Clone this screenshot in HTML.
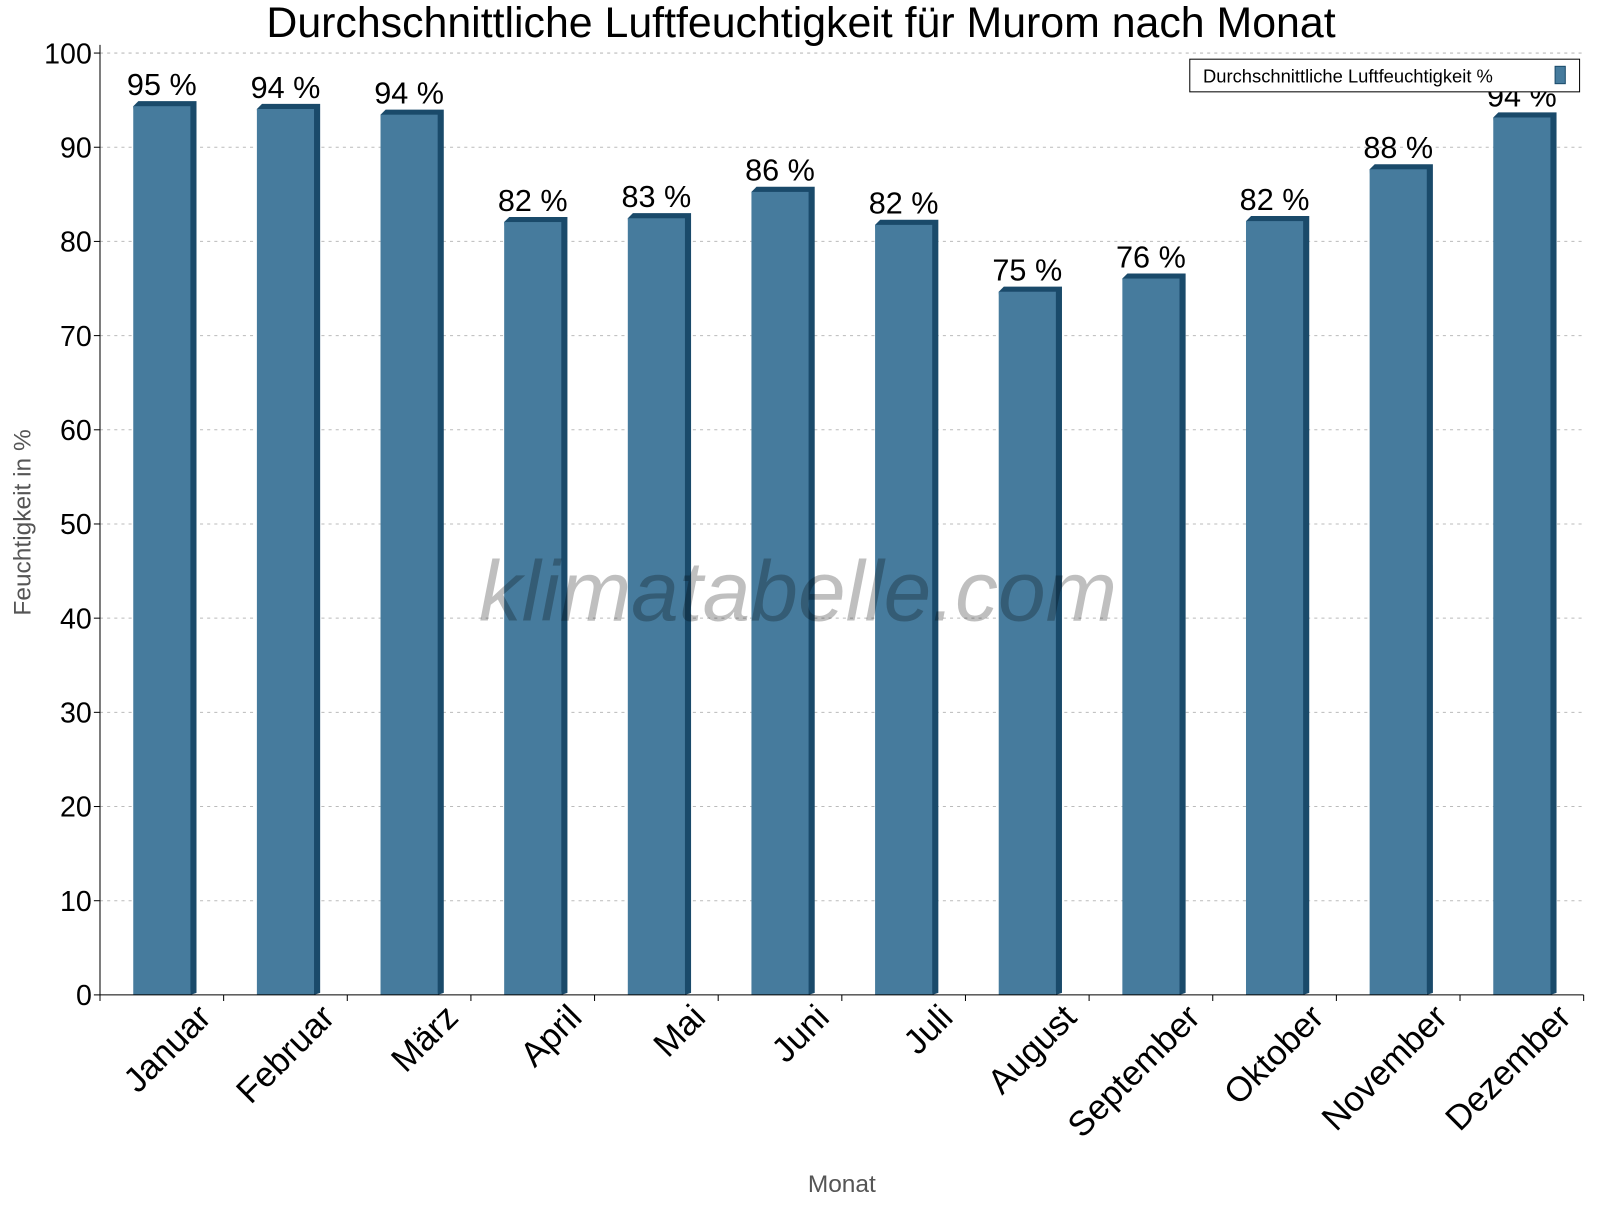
<!DOCTYPE html>
<html><head><meta charset="utf-8"><style>body{margin:0;background:#fff}svg{font-family:"Liberation Sans",Arial,sans-serif}</style></head>
<body>
<svg width="1600" height="1200" xmlns="http://www.w3.org/2000/svg">
<rect width="1600" height="1200" fill="#fff"/>
<g transform="scale(1.0204)">
<text x="785" y="36" font-size="42" text-anchor="middle">Durchschnittliche Luftfeuchtigkeit für Murom nach Monat</text>
<g id="grid"></g>
<g id="bars"></g>
<text x="782" y="608" font-size="84" font-style="italic" fill="#000" fill-opacity="0.25" text-anchor="middle">klimatabelle.com</text>
<g id="axes"></g>
<text transform="translate(30,512) rotate(-90)" font-size="24" fill="#555" text-anchor="middle">Feuchtigkeit in %</text>
<text x="825" y="1168" font-size="24" fill="#555" text-anchor="middle">Monat</text>
<g>
<rect x="1166" y="58" width="382" height="32" fill="#fff" stroke="#000"/>
<text x="1179" y="81" font-size="18">Durchschnittliche Luftfeuchtigkeit %</text>
<rect x="1524" y="65" width="10" height="17" fill="#467b9d" stroke="#1a4a6a"/>
</g>
</g>
</svg>
<script>
const months=["Januar","Februar","März","April","Mai","Juni","Juli","August","September","Oktober","November","Dezember"];
const values=[94.9,94.6,94.0,82.6,83.0,85.8,82.3,75.2,76.6,82.7,88.2,93.7];
const labels=["95 %","94 %","94 %","82 %","83 %","86 %","82 %","75 %","76 %","82 %","88 %","94 %"];
const yTicks=[0,10,20,30,40,50,60,70,80,90,100];
const NS="http://www.w3.org/2000/svg";
const X0=98,X1=1552,Y0=975,Y1=52;
const y=v=>Y0-(Y0-Y1)*v/100;
const bw=(X1-X0)/months.length;
const cx=i=>X0+bw*(i+0.5);
function mk(tag,attrs,parent){const e=document.createElementNS(NS,tag);for(const k in attrs)e.setAttribute(k,attrs[k]);parent.appendChild(e);return e;}
const grid=document.getElementById('grid'),bars=document.getElementById('bars'),axes=document.getElementById('axes');
yTicks.forEach(t=>{
  if(t>0){const g=mk('line',{x1:X0,x2:X1,y1:y(t),y2:y(t),stroke:'#bbb','stroke-dasharray':'3,4'},grid);
  
  }
  mk('line',{x1:X0-6,x2:X0,y1:y(t),y2:y(t),stroke:'#000'},axes);
  const tl=mk('text',{x:X0-8,y:y(t)+10,'font-size':28,'text-anchor':'end'},axes);
  tl.textContent=t;
  
  
});
mk('line',{x1:X0,x2:X0,y1:Y1-8,y2:Y0,stroke:'#000'},axes);
mk('line',{x1:X0,x2:X1,y1:Y0,y2:Y0,stroke:'#000'},axes);
months.forEach((m,i)=>{
  const xl=X0+bw*i;
  mk('line',{x1:xl,x2:xl,y1:Y0,y2:Y0+6,stroke:'#000'},axes);
  if(i==months.length-1)mk('line',{x1:X1,x2:X1,y1:Y0,y2:Y0+6,stroke:'#000'},axes);
  const c=cx(i),top=y(values[i]),l=c-28,w=56,s=6,d=5;
  const g=mk('g',{},bars);
  
  
  mk('polygon',{points:`${l},${top+d} ${l+d},${top} ${l+w+s},${top} ${l+w+s},${Y0-2} ${l+w},${Y0}`,fill:'#1a4a6a'},g);
  mk('rect',{x:l,y:top+d,width:w,height:Y0-top-d,fill:'#467b9d'},g);
  const vl=mk('text',{x:c,y:top-6,'font-size':30,'text-anchor':'middle'},bars);
  vl.textContent=labels[i];
  
  
  const xl2=mk('text',{transform:`translate(${c+50},${Y0+24}) rotate(-45)`,'font-size':34,'text-anchor':'end'},axes);
  xl2.textContent=m;
  
  
});
</script>
</body></html>
